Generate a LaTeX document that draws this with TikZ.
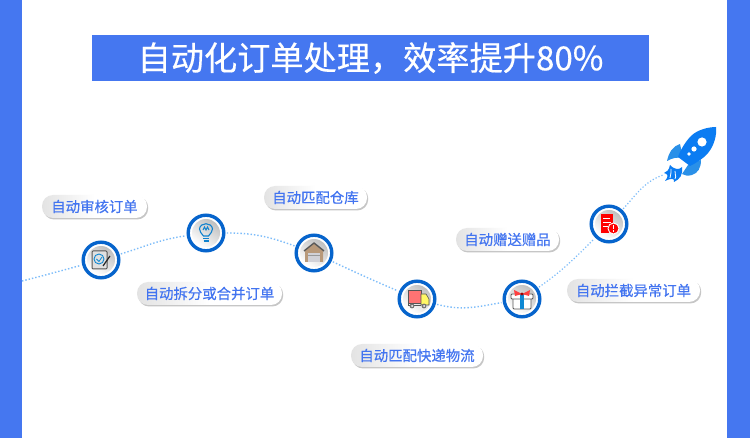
\documentclass[tikz,border=0pt]{standalone}
\usepackage{fontspec}
\setmainfont{Noto Sans CJK SC}
\newfontfamily\labelfont[FakeBold=.5]{Noto Sans CJK SC}
\newfontfamily\titlefont[FakeBold=.4]{Noto Sans CJK SC}
\usetikzlibrary{positioning,shadows,calc}
\definecolor{barblue}{HTML}{4577F0}
\definecolor{ringblue}{HTML}{0664CC}
\definecolor{labelblue}{HTML}{4274F0}
\definecolor{dotblue}{HTML}{7CBCFA}
\definecolor{rocketblue}{HTML}{0B7CF2}
\definecolor{finblue}{HTML}{2A90E8}
\definecolor{iconline}{HTML}{555555}

\begin{document}
\begin{tikzpicture}[
  x=1pt, y=-1pt,
  stop/.style={circle, draw=ringblue, line width=3.4pt, fill=white, minimum size=35.6pt, inner sep=0pt, outer sep=3pt},
  disc/.style={circle, shading=axis, top color=black!25, bottom color=white, shading angle=-35, minimum size=28pt, inner sep=0pt},
  pill/.style={rounded corners=11pt, minimum height=23pt, inner sep=0pt, text=labelblue, font=\labelfont\fontsize{14.4}{15}\selectfont,
    left color=black!11, right color=white, middle color=white,
    drop shadow={shadow xshift=1.2pt, shadow yshift=-1.5pt, fill=black!28, opacity=.8}},
  flow/.style={dotted, line width=1.4pt, dotblue},
  thinicon/.style={draw=iconline, line width=.8pt}
]

% frame
\useasboundingbox (0,0) rectangle (750,438);
\fill[white] (0,0) rectangle (750,438);
\fill[barblue] (0,0) rectangle (22,438);
\fill[barblue] (727,0) rectangle (750,438);
\node[fill=barblue, minimum width=557pt, minimum height=46pt, inner sep=0pt, text=white, font=\titlefont\fontsize{33.2}{35}\selectfont] (title) at (370.5,58) {自动化订单处理，效率提升80\%};

% stops
\node[stop] (audit) at (101,260) {};
\node[stop] (split) at (206,233) {};
\node[stop] (store) at (314,253) {};
\node[stop] (truck) at (417,299) {};
\node[stop] (gift) at (522,299) {};
\node[stop] (alert) at (609,224) {};
\foreach \n in {audit,split,store,truck,gift,alert}
  \node[disc] at (\n) {};
\coordinate (start) at (22,281);
\coordinate (tail) at (663,175);

% dotted path
\draw[flow] (start) to[out=14,in=195] (audit);
\draw[flow] (audit) to[out=17,in=188] (split);
\draw[flow] (split) to[out=0,in=160] (store);
\draw[flow] (store) to[out=-25,in=157] (truck);
\draw[flow] (truck) to[out=-15,in=190] (gift);
\draw[flow, line width=1.2pt] (gift) to[out=35,in=225] (alert);
\draw[flow, line width=1.2pt] (alert) to[out=47,in=200] (tail);

% labels
\node[pill, minimum width=105pt] (auditlabel) at (94.5,206.5) {自动审核订单};
\node[pill, minimum width=145pt] (splitlabel) at (209.5,293.5) {自动拆分或合并订单};
\node[pill, minimum width=103pt] (storelabel) at (315.5,197.5) {自动匹配仓库};
\node[pill, minimum width=132pt] (trucklabel) at (417,355.5) {自动匹配快递物流};
\node[pill, minimum width=103pt] (giftlabel) at (507.5,239.5) {自动赠送赠品};
\node[pill, minimum width=133pt] (alertlabel) at (633.5,290.5) {自动拦截异常订单};

% audit icon
\begin{scope}[shift={(audit)}]
  \draw[thinicon, line width=1pt, fill=black!12, rounded corners=1pt] (-9,-9) rectangle (6,9);
  \draw[draw=cyan!70!blue, line width=.9pt] (-2,-1) circle (5);
  \draw[draw=cyan!70!blue, line width=.8pt] (-4.5,-1) -- (-2,1.5) -- (1,-3);
  \draw[black!85, line width=1.2pt] (2,6) -- (9,-4);
\end{scope}

% bulb icon
\begin{scope}[shift={(split)}]
  \draw[draw=cyan!65!blue, line width=1.1pt] (-2.5,3) .. controls (-4,0) and (-7,-1) .. (-6.5,-4) .. controls (-6,-11) and (6,-11) .. (6.5,-4) .. controls (7,-1) and (4,0) .. (2.5,3) -- cycle;
  \draw[draw=cyan!65!blue, line width=.9pt] (-3,-3) -- (-1.5,-6) -- (0,-3) -- (1.5,-6) -- (3,-3);
  \draw[draw=cyan!65!blue, line width=1.1pt] (-3,5.5) -- (3,5.5) (-2.5,8) -- (2.5,8);
\end{scope}

% warehouse icon
\begin{scope}[shift={(store)}]
  \fill[brown!60!gray!80!white] (-9,-3) -- (0,-10) -- (9,-3) -- (9,9) -- (-9,9) -- cycle;
  \draw[black!65, line width=1.4pt, line join=round] (-10,-2) -- (0,-10) -- (10,-2);
  \fill[blue!12!black!18] (-6,0) rectangle (6,9);
  \draw[black!40, line width=.6pt] (-6,2) -- (6,2);
\end{scope}

% truck icon
\begin{scope}[shift={(truck)}]
  \fill[red!55!white] (-9,-9) rectangle (4,4);
  \draw[iconline, line width=.6pt] (-9,-9) rectangle (4,4);
  \fill[yellow!60!white] (4,-5) -- (9,-5) -- (12,0) -- (12,6) -- (4,6) -- cycle;
  \draw[iconline, line width=.6pt] (4,-5) -- (9,-5) -- (12,0) -- (12,6) -- (4,6) -- cycle;
  \draw[iconline, line width=.6pt] (-9,4) -- (-9,6) -- (4,6);
  \fill[black!55] (-5,7) circle (2.4) (7,7) circle (2.4);
  \fill[white] (-5,7) circle (1) (7,7) circle (1);
\end{scope}

% gift icon
\begin{scope}[shift={(gift)}]
  \draw[thinicon, fill=white, rounded corners=1pt] (-9,-2) rectangle (9,10);
  \draw[thinicon, fill=white, rounded corners=1pt] (-11,-5) rectangle (11,0);
  \fill[cyan!70!blue] (-2,-5) rectangle (2,10);
  \fill[red!75!white] (0,-5) -- (-8,-9) -- (-7,-3) -- cycle (0,-5) -- (8,-9) -- (7,-3) -- cycle;
  \fill[red!60!black] (0,-5) circle (1.6);
\end{scope}

% alert icon
\begin{scope}[shift={(alert)}]
  \fill[red] (-8,-10) -- (4,-10) -- (4,9) -- (-8,9) -- cycle;
  \draw[white, line width=.9pt] (-6,-6) -- (1,-6) (-6,-2) -- (2,-2) (-6,2) -- (-1,2);
  \fill[red, draw=white, line width=.9pt] (4.5,4.5) circle (5.5);
  \draw[white, line width=1.1pt] (4.5,1.5) -- (4.5,5) (4.5,6.3) -- (4.5,7.6);
\end{scope}

% rocket
\fill[finblue] (680,144) .. controls (673,146) and (669,152) .. (667,161) .. controls (672,158) and (677,157) .. (683,158) -- cycle;
\fill[finblue] (701,160) .. controls (701,168) and (698,173) .. (692,175) .. controls (688,176) and (685,176) .. (682,174) -- (688,165) -- cycle;
\fill[rocketblue] (691,136) .. controls (697,130) and (708,127) .. (716,127) .. controls (717,135) and (714,146) .. (708,153) .. controls (703,159) and (696,163) .. (690,166) -- (678,157) .. controls (680,151) and (685,142) .. (691,136) -- cycle;
\fill[white] (702,142) circle (4.6) (694,149) circle (2.6) (689,154) circle (1.8);
\fill[rocketblue] (670,165) .. controls (669,170) and (667,172) .. (664,173) .. controls (668,174) and (669,176) .. (665,181) .. controls (671,178) and (675,178) .. (674,182) .. controls (680,179) and (683,175) .. (682,167) .. controls (679,170) and (675,170) .. (670,165) -- cycle;
\draw[white, line width=.8pt] (671,169) .. controls (670,172) and (672,175) .. (670,178) (675,171) .. controls (674,174) and (677,175) .. (675,179);

\end{tikzpicture}
\end{document}
